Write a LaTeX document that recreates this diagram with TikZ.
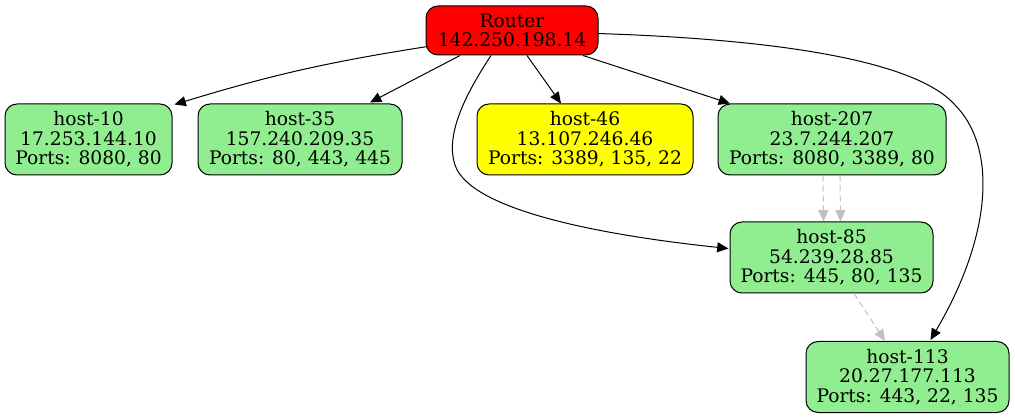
\documentclass[tikz,border=0pt]{standalone}
\usepackage{fontspec}
\setmainfont{DejaVu Serif}
\usetikzlibrary{arrows.meta,calc}
\definecolor{hostgreen}{HTML}{90EE90}
\definecolor{hostyellow}{HTML}{FFFF00}
\definecolor{routerred}{HTML}{FF0000}
\definecolor{edgegray}{HTML}{C0C0C0}
\begin{document}
\begin{tikzpicture}[x=0.75pt,y=-0.75pt,
  hostbox/.style={draw=black, line width=0.75pt, rounded corners=9pt, fill=hostgreen,
    align=center, minimum height=53.25pt, inner sep=0pt,
    font=\fontsize{14}{14.6}\selectfont},
  edge/.style={-{Triangle[length=8.5pt,width=7.5pt]}, line width=0.75pt, draw=black},
  grayedge/.style={edge, draw=edgegray, dash pattern=on 4.5pt off 3pt}]
\useasboundingbox (0,0) rectangle (1015,417);

\node[hostbox, fill=routerred, minimum width=129pt, minimum height=36.75pt] (router) at (512,30.5) {Router\\142.250.198.14};
\node[hostbox, minimum width=125.25pt] (host10) at (88.5,139.5) {host-10\\17.253.144.10\\Ports: 8080, 80};
\node[hostbox, minimum width=153pt] (host35) at (300,139.5) {host-35\\157.240.209.35\\Ports: 80, 443, 445};
\node[hostbox, fill=hostyellow, minimum width=162pt] (host46) at (585,139.5) {host-46\\13.107.246.46\\Ports: 3389, 135, 22};
\node[hostbox, minimum width=171pt] (host207) at (832,139.5) {host-207\\23.7.244.207\\Ports: 8080, 3389, 80};
\node[hostbox, minimum width=152.25pt] (host85) at (831.5,257.5) {host-85\\54.239.28.85\\Ports: 445, 80, 135};
\node[hostbox, minimum width=152.25pt] (host113) at (907.5,377) {host-113\\20.27.177.113\\Ports: 443, 22, 135};

\draw[edge] ($(router.west)+(2,16)$) to[bend right=4] ($(host10.north east)+(2,1)$);
\draw[edge] ($(router.south)+(-52,0)$) -- ($(host35.north)+(70,-1)$);
\draw[edge] ($(router.south)+(15,0)$) -- ($(host46.north)+(-24,0)$);
\draw[edge] ($(router.south)+(71,0)$) -- ($(host207.north)+(-102,0)$);
\draw[edge] ($(router.south)+(-21,0)$) .. controls (465,95) and (445,135) .. (455,165)
  .. controls (470,210) and (600,235) .. ($(host85.west)+(-1,-9)$);
\draw[edge] ($(router.east)+(-1,3)$) .. controls (800,40) and (920,65) .. (955,105)
  .. controls (995,145) and (995,230) .. ($(host113.north)+(23,-1)$);

\draw[grayedge] ($(host207.south)+(-9,0)$) -- ($(host85.north)+(-8,0)$);
\draw[grayedge] ($(host207.south)+(8,0)$) -- ($(host85.north)+(9,0)$);
\draw[grayedge] ($(host85.south)+(22.5,0)$) -- ($(host113.north)+(-22.5,0)$);
\end{tikzpicture}
\end{document}
